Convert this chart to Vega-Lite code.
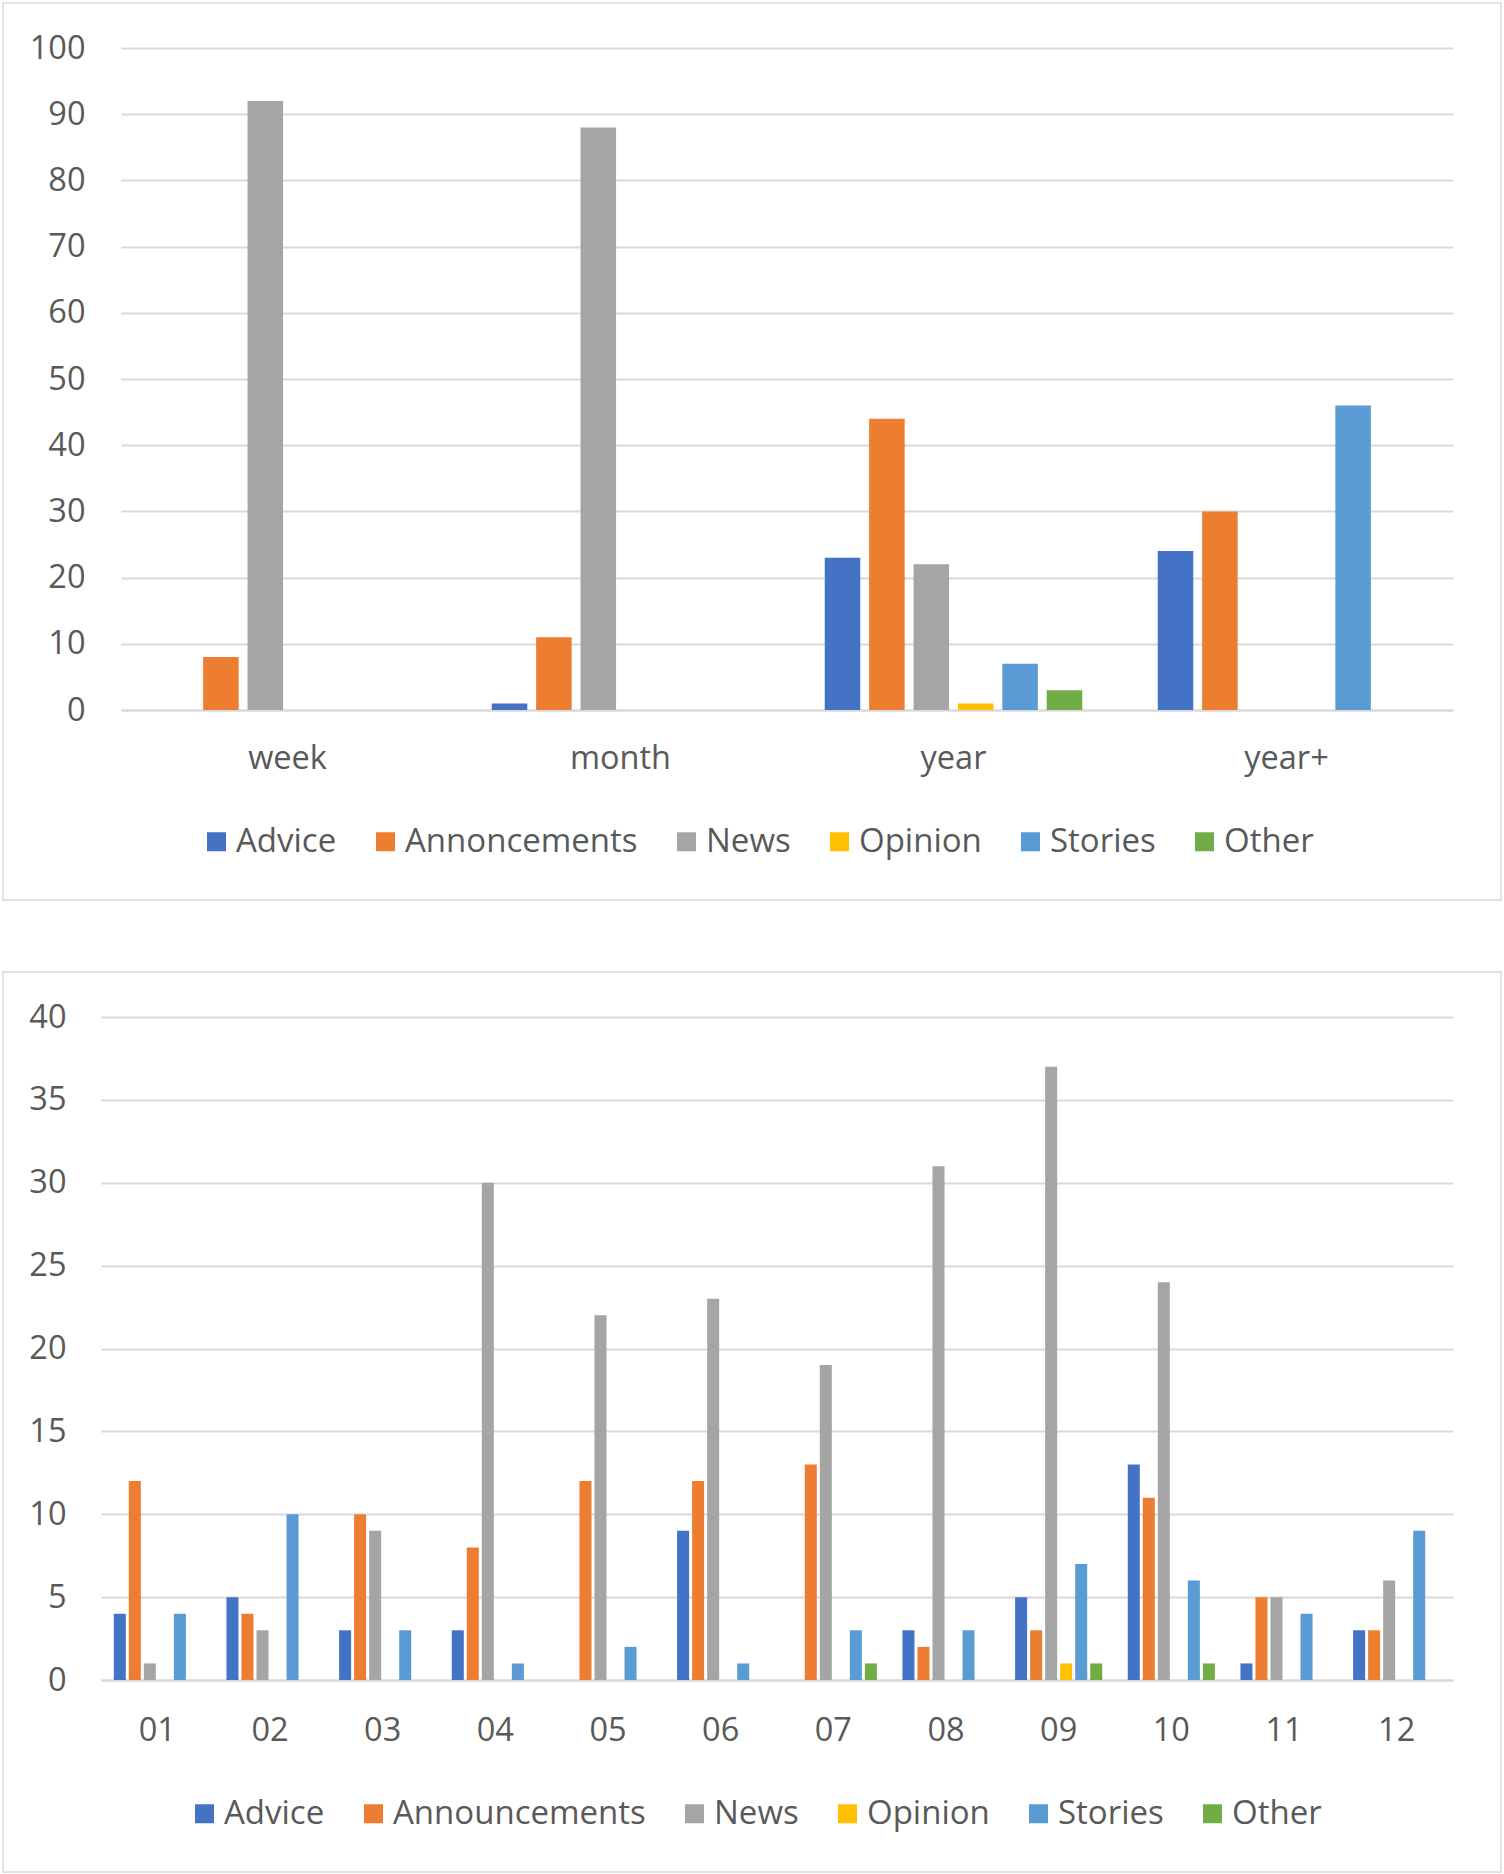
{
  "$schema": "https://vega.github.io/schema/vega-lite/v6.json",
  "padding": {"left": 2, "top": 2, "right": 0, "bottom": 0},
  "spacing": 70,
  "resolve": {
    "scale": {"x": "independent", "y": "independent", "xOffset": "independent", "color": "independent"},
    "legend": {"color": "independent"}
  },
  "vconcat": [
    {
      "width": 1498,
      "height": 897,
      "data": {
        "values": [
          {"period": "week", "type": "Annoncements", "count": 8},
          {"period": "week", "type": "News", "count": 92},
          {"period": "month", "type": "Advice", "count": 1},
          {"period": "month", "type": "Annoncements", "count": 11},
          {"period": "month", "type": "News", "count": 88},
          {"period": "year", "type": "Advice", "count": 23},
          {"period": "year", "type": "Annoncements", "count": 44},
          {"period": "year", "type": "News", "count": 22},
          {"period": "year", "type": "Opinion", "count": 1},
          {"period": "year", "type": "Stories", "count": 7},
          {"period": "year", "type": "Other", "count": 3},
          {"period": "year+", "type": "Advice", "count": 24},
          {"period": "year+", "type": "Annoncements", "count": 30},
          {"period": "year+", "type": "Stories", "count": 46}
        ]
      },
      "mark": "bar",
      "encoding": {
        "x": {
          "field": "period", "type": "nominal", "title": null,
          "sort": ["week", "month", "year", "year+"],
          "scale": {"domain": ["week", "month", "year", "year+"], "range": [118, 1450], "paddingInner": 0, "paddingOuter": 0},
          "axis": {"orient": "bottom", "offset": -190, "labelAngle": 0, "labelPadding": 32, "ticks": false, "tickSize": 0, "grid": false}
        },
        "xOffset": {
          "field": "type", "type": "nominal",
          "scale": {"domain": ["Advice", "Annoncements", "News", "Opinion", "Stories", "Other"], "paddingInner": 0.2, "paddingOuter": 0.85}
        },
        "y": {
          "field": "count", "type": "quantitative", "title": null,
          "scale": {"domain": [0, 100], "range": [707, 45], "nice": false},
          "axis": {"orient": "left", "offset": -118, "values": [0, 10, 20, 30, 40, 50, 60, 70, 80, 90, 100], "labelPadding": 36, "ticks": false, "tickSize": 0, "domain": false}
        },
        "color": {
          "field": "type", "type": "nominal",
          "scale": {"domain": ["Advice", "Annoncements", "News", "Opinion", "Stories", "Other"], "range": ["#4472C4", "#ED7D31", "#A5A5A5", "#FFC000", "#5B9BD5", "#70AD47"]},
          "legend": {"orient": "none", "direction": "horizontal", "legendX": 197, "legendY": 822, "title": null}
        }
      }
    },
    {
      "width": 1498,
      "height": 900,
      "data": {
        "values": [
          {"month": "01", "type": "Advice", "count": 4},
          {"month": "01", "type": "Announcements", "count": 12},
          {"month": "01", "type": "News", "count": 1},
          {"month": "01", "type": "Stories", "count": 4},
          {"month": "02", "type": "Advice", "count": 5},
          {"month": "02", "type": "Announcements", "count": 4},
          {"month": "02", "type": "News", "count": 3},
          {"month": "02", "type": "Stories", "count": 10},
          {"month": "03", "type": "Advice", "count": 3},
          {"month": "03", "type": "Announcements", "count": 10},
          {"month": "03", "type": "News", "count": 9},
          {"month": "03", "type": "Stories", "count": 3},
          {"month": "04", "type": "Advice", "count": 3},
          {"month": "04", "type": "Announcements", "count": 8},
          {"month": "04", "type": "News", "count": 30},
          {"month": "04", "type": "Stories", "count": 1},
          {"month": "05", "type": "Announcements", "count": 12},
          {"month": "05", "type": "News", "count": 22},
          {"month": "05", "type": "Stories", "count": 2},
          {"month": "06", "type": "Advice", "count": 9},
          {"month": "06", "type": "Announcements", "count": 12},
          {"month": "06", "type": "News", "count": 23},
          {"month": "06", "type": "Stories", "count": 1},
          {"month": "07", "type": "Announcements", "count": 13},
          {"month": "07", "type": "News", "count": 19},
          {"month": "07", "type": "Stories", "count": 3},
          {"month": "07", "type": "Other", "count": 1},
          {"month": "08", "type": "Advice", "count": 3},
          {"month": "08", "type": "Announcements", "count": 2},
          {"month": "08", "type": "News", "count": 31},
          {"month": "08", "type": "Stories", "count": 3},
          {"month": "09", "type": "Advice", "count": 5},
          {"month": "09", "type": "Announcements", "count": 3},
          {"month": "09", "type": "News", "count": 37},
          {"month": "09", "type": "Opinion", "count": 1},
          {"month": "09", "type": "Stories", "count": 7},
          {"month": "09", "type": "Other", "count": 1},
          {"month": "10", "type": "Advice", "count": 13},
          {"month": "10", "type": "Announcements", "count": 11},
          {"month": "10", "type": "News", "count": 24},
          {"month": "10", "type": "Stories", "count": 6},
          {"month": "10", "type": "Other", "count": 1},
          {"month": "11", "type": "Advice", "count": 1},
          {"month": "11", "type": "Announcements", "count": 5},
          {"month": "11", "type": "News", "count": 5},
          {"month": "11", "type": "Stories", "count": 4},
          {"month": "12", "type": "Advice", "count": 3},
          {"month": "12", "type": "Announcements", "count": 3},
          {"month": "12", "type": "News", "count": 6},
          {"month": "12", "type": "Stories", "count": 9}
        ]
      },
      "mark": "bar",
      "encoding": {
        "x": {
          "field": "month", "type": "nominal", "title": null,
          "scale": {"domain": ["01", "02", "03", "04", "05", "06", "07", "08", "09", "10", "11", "12"], "range": [98, 1450], "paddingInner": 0, "paddingOuter": 0},
          "axis": {"orient": "bottom", "offset": -192, "labelAngle": 0, "labelPadding": 34, "ticks": false, "tickSize": 0, "grid": false}
        },
        "xOffset": {
          "field": "type", "type": "nominal",
          "scale": {"domain": ["Advice", "Announcements", "News", "Opinion", "Stories", "Other"], "paddingInner": 0.2, "paddingOuter": 0.85}
        },
        "y": {
          "field": "count", "type": "quantitative", "title": null,
          "scale": {"domain": [0, 40], "range": [708, 45], "nice": false},
          "axis": {"orient": "left", "offset": -98, "values": [0, 5, 10, 15, 20, 25, 30, 35, 40], "labelPadding": 35, "ticks": false, "tickSize": 0, "domain": false}
        },
        "color": {
          "field": "type", "type": "nominal",
          "scale": {"domain": ["Advice", "Announcements", "News", "Opinion", "Stories", "Other"], "range": ["#4472C4", "#ED7D31", "#A5A5A5", "#FFC000", "#5B9BD5", "#70AD47"]},
          "legend": {"orient": "none", "direction": "horizontal", "legendX": 185, "legendY": 825, "title": null}
        }
      }
    }
  ],
  "config": {
    "font": "Open Sans",
    "view": {"stroke": "#d9d9d9", "strokeWidth": 1.5},
    "axis": {
      "labelFont": "Open Sans",
      "labelFontSize": 32.5,
      "labelColor": "#595959",
      "gridColor": "#d9d9d9",
      "gridWidth": 2,
      "domainColor": "#d9d9d9",
      "domainWidth": 2
    },
    "legend": {
      "labelFont": "Open Sans",
      "labelFontSize": 33,
      "labelColor": "#595959",
      "symbolType": "square",
      "symbolSize": 361,
      "symbolStrokeWidth": 0,
      "labelOffset": 3,
      "columnPadding": 32,
      "labelLimit": 400
    }
  }
}
